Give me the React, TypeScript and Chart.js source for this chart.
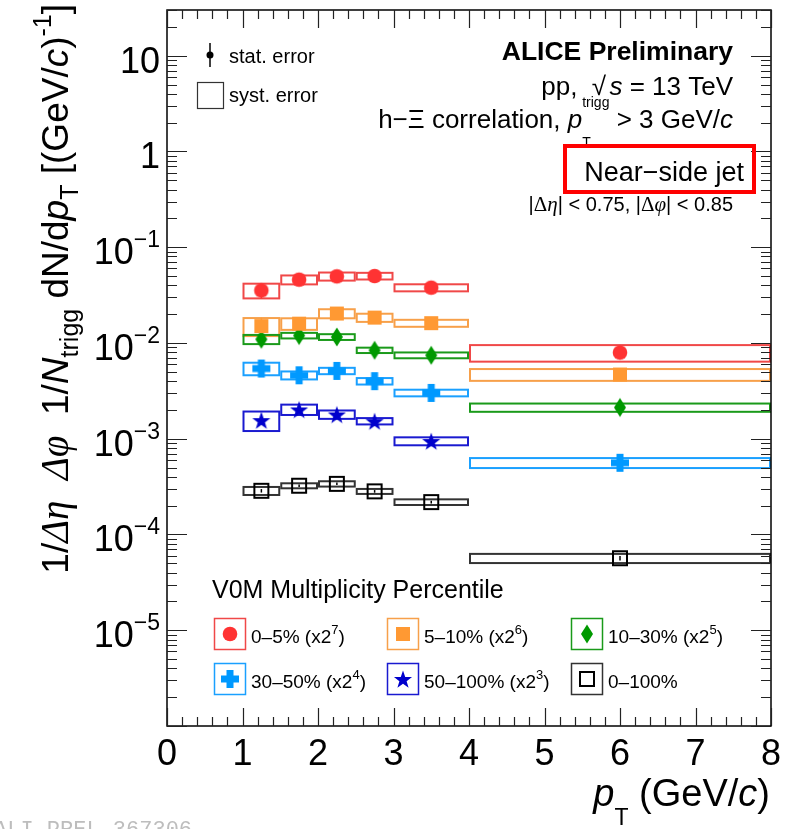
import React, { useEffect, useRef } from 'react';
import { Chart, registerables } from 'chart.js';

Chart.register(...registerables);

const SANS = '"Liberation Sans", Arial, Helvetica, sans-serif';
const SERIF = '"Liberation Serif", "Times New Roman", serif';
const MONO = '"Liberation Mono", "Courier New", monospace';

// ---------- data ----------
const binEdges = [1, 1.5, 2, 2.5, 3, 4, 8];
const binCenters = [1.25, 1.75, 2.25, 2.75, 3.5, 6];

const xTicks = [0, 1, 2, 3, 4, 5, 6, 7, 8];
const yDecadeExps = [1, 0, -1, -2, -3, -4, -5];
const xMin = 0;
const xMax = 8;
const yMin = 1e-6;
const yMax = 30;

const classLabels = ['0–5%', '5–10%', '10–30%', '30–50%', '50–100%', '0–100%'];
const scaleExps = [7, 6, 5, 4, 3, 0];

const vals0to5 = [0.0354, 0.0458, 0.0496, 0.05, 0.0378, 0.00794];
const syst0to5 = [0.0062, 0.0049, 0.0048, 0.004, 0.0032, 0.00156];
const stat0to5 = [0.0062, 0.002, 0.0016, 0.0015, 0.0012, 0.0012];

const vals5to10 = [0.015, 0.0159, 0.0203, 0.0184, 0.0161, 0.00468];
const syst5to10 = [0.0032, 0.0022, 0.0022, 0.0018, 0.00135, 0.00066];
const stat5to10 = [0.0033, 0.0012, 0.0011, 0.0009, 0.0007, 0.0004];

const vals10to30 = [0.01093, 0.01195, 0.01155, 0.00839, 0.00744, 0.00212];
const syst10to30 = [0.0012, 0.0008, 0.0008, 0.00054, 0.00052, 0.00021];
const stat10to30 = [0.0009, 0.0006, 0.0006, 0.0004, 0.0003, 0.00015];

const vals30to50 = [0.00541, 0.0046, 0.00511, 0.00399, 0.00301, 0.000561];
const syst30to50 = [0.00081, 0.00044, 0.00039, 0.00031, 0.00024, 0.000067];
const stat30to50 = [0.0004, 0.0003, 0.0003, 0.00025, 0.00018, 0.00005];

const vals50to100 = [0.001563, 0.00202, 0.001792, 0.001526, 0.000944];
const syst50to100 = [0.00036, 0.00025, 0.00018, 0.000116, 0.00009];
const stat50to100 = [0.00012, 0.00012, 0.0001, 0.00009, 0.00006];

const vals0to100 = [0.000286, 0.000323, 0.000338, 0.000282, 0.000218, 0.0000565];
const syst0to100 = [0.0000275, 0.0000194, 0.0000216, 0.0000169, 0.0000148, 0.0000062];
const stat0to100 = [0.000012, 0.00001, 0.00001, 0.000009, 0.000007, 0.000003];

// ---------- styles ----------
type Kind = 'circle' | 'square' | 'diamond' | 'plus' | 'star' | 'open';
const seriesStyle: { kind: Kind; fill: string; box: string }[] = [
  { kind: 'circle', fill: '#ff3333', box: '#f04848' },
  { kind: 'square', fill: '#ff9933', box: '#f7a04a' },
  { kind: 'diamond', fill: '#009900', box: '#1a9a1a' },
  { kind: 'plus', fill: '#0099ff', box: '#1aa0ff' },
  { kind: 'star', fill: '#0000cc', box: '#1a1ad0' },
  { kind: 'open', fill: '#000000', box: '#333333' },
];

const seriesData = [
  { vals: vals0to5, syst: syst0to5, stat: stat0to5 },
  { vals: vals5to10, syst: syst5to10, stat: stat5to10 },
  { vals: vals10to30, syst: syst10to30, stat: stat10to30 },
  { vals: vals30to50, syst: syst30to50, stat: stat30to50 },
  { vals: vals50to100, syst: syst50to100, stat: stat50to100 },
  { vals: vals0to100, syst: syst0to100, stat: stat0to100 },
];

function makeMarker(kind: Kind, color: string): HTMLCanvasElement {
  const c = document.createElement('canvas');
  c.width = 24;
  c.height = 24;
  const g = c.getContext('2d')!;
  g.translate(12, 12);
  g.fillStyle = color;
  g.strokeStyle = color;
  g.beginPath();
  if (kind === 'circle') {
    g.arc(0, 0, 7.3, 0, Math.PI * 2);
    g.fill();
  } else if (kind === 'square') {
    g.fillRect(-7, -7, 14, 14);
  } else if (kind === 'diamond') {
    g.moveTo(0, -9.5);
    g.lineTo(6, 0);
    g.lineTo(0, 9.5);
    g.lineTo(-6, 0);
    g.closePath();
    g.fill();
  } else if (kind === 'plus') {
    g.fillRect(-9, -3.5, 18, 7);
    g.fillRect(-3.5, -9, 7, 18);
  } else if (kind === 'star') {
    const R = 9.5;
    const r = 3.8;
    for (let i = 0; i < 10; i++) {
      const a = -Math.PI / 2 + (i * Math.PI) / 5;
      const rr = i % 2 === 0 ? R : r;
      const px = rr * Math.cos(a);
      const py = rr * Math.sin(a) + 1;
      if (i === 0) g.moveTo(px, py);
      else g.lineTo(px, py);
    }
    g.closePath();
    g.fill();
  } else {
    g.lineWidth = 2;
    g.strokeRect(-7, -7, 14, 14);
  }
  return c;
}

// ---------- rich text ----------
type Seg = {
  t?: string;
  size: number;
  style?: string;
  weight?: string;
  fam?: string;
  dy?: number;
  stack?: Seg[];
};

function fontOf(s: Seg) {
  return `${s.style || 'normal'} ${s.weight || 'normal'} ${s.size}px ${s.fam || SANS}`;
}
function segWidth(ctx: CanvasRenderingContext2D, s: Seg): number {
  if (s.stack) return Math.max(...s.stack.map((q) => segWidth(ctx, q)));
  ctx.font = fontOf(s);
  return ctx.measureText(s.t || '').width;
}
function richWidth(ctx: CanvasRenderingContext2D, segs: Seg[]) {
  return segs.reduce((a, s) => a + segWidth(ctx, s), 0);
}
function drawRich(
  ctx: CanvasRenderingContext2D,
  segs: Seg[],
  x: number,
  y: number,
  align: 'left' | 'right' | 'center'
) {
  const w = richWidth(ctx, segs);
  let cx = align === 'left' ? x : align === 'right' ? x - w : x - w / 2;
  ctx.textAlign = 'left';
  ctx.textBaseline = 'alphabetic';
  for (const s of segs) {
    if (s.stack) {
      for (const q of s.stack) {
        ctx.font = fontOf(q);
        ctx.fillText(q.t || '', cx, y + (q.dy || 0));
      }
    } else {
      ctx.font = fontOf(s);
      ctx.fillText(s.t || '', cx, y + (s.dy || 0));
    }
    cx += segWidth(ctx, s);
  }
}

export default function App() {
  const ref = useRef<HTMLCanvasElement | null>(null);

  useEffect(() => {
    const canvas = ref.current;
    if (!canvas) return;
    const markers = seriesStyle.map((s) => makeMarker(s.kind, s.fill));

    const datasets = seriesData.map((sd, i) => ({
      label: classLabels[i],
      data: sd.vals.map((v, j) => ({ x: binCenters[j], y: v })),
      pointStyle: markers[i] as any,
      pointRadius: 8,
      showLine: false,
      borderColor: seriesStyle[i].fill,
      backgroundColor: seriesStyle[i].fill,
    }));

    const boxesPlugin = {
      id: 'boxes',
      beforeDatasetsDraw(chart: any) {
        const ctx: CanvasRenderingContext2D = chart.ctx;
        const xs = chart.scales.x;
        const ys = chart.scales.y;
        ctx.save();
        seriesData.forEach((sd, i) => {
          ctx.strokeStyle = seriesStyle[i].box;
          ctx.lineWidth = 2;
          sd.vals.forEach((v, j) => {
            const x0 = xs.getPixelForValue(binEdges[j]);
            const x1 = xs.getPixelForValue(binEdges[j + 1]);
            const yt = ys.getPixelForValue(v + sd.syst[j]);
            const yb = ys.getPixelForValue(Math.max(v - sd.syst[j], 1e-9));
            ctx.strokeRect(x0 + 1, yt, x1 - x0 - 2, yb - yt);
          });
          ctx.strokeStyle = seriesStyle[i].fill;
          ctx.lineWidth = 1.5;
          sd.vals.forEach((v, j) => {
            const xc = xs.getPixelForValue(binCenters[j]);
            const yt = ys.getPixelForValue(v + sd.stat[j]);
            const yb = ys.getPixelForValue(v - sd.stat[j]);
            ctx.beginPath();
            ctx.moveTo(xc, yt);
            ctx.lineTo(xc, yb);
            ctx.stroke();
          });
        });
        ctx.restore();
      },
    };

    const framePlugin = {
      id: 'frame',
      afterDraw(chart: any) {
        const ctx: CanvasRenderingContext2D = chart.ctx;
        const xs = chart.scales.x;
        const ys = chart.scales.y;
        const a = chart.chartArea;
        ctx.save();
        ctx.strokeStyle = '#000';
        ctx.lineWidth = 1.5;
        ctx.strokeRect(a.left, a.top, a.right - a.left, a.bottom - a.top);
        ctx.lineWidth = 1.2;
        ctx.strokeStyle = '#222';
        for (let k = 0; k <= 40; k++) {
          const v = xMin + (k * (xMax - xMin)) / 40;
          const px = Math.round(xs.getPixelForValue(v)) + 0.5;
          const len = k % 5 === 0 ? 18 : 9;
          ctx.beginPath();
          ctx.moveTo(px, a.bottom);
          ctx.lineTo(px, a.bottom - len);
          ctx.moveTo(px, a.top);
          ctx.lineTo(px, a.top + len);
          ctx.stroke();
        }
        for (let e = -6; e <= 1; e++) {
          for (let m = 1; m <= 9; m++) {
            const v = m * Math.pow(10, e);
            if (v < yMin * 0.999 || v > yMax * 1.001) continue;
            const py = Math.round(ys.getPixelForValue(v)) + 0.5;
            const len = m === 1 ? 20 : 10;
            ctx.beginPath();
            ctx.moveTo(a.left, py);
            ctx.lineTo(a.left + len, py);
            ctx.moveTo(a.right, py);
            ctx.lineTo(a.right - len, py);
            ctx.stroke();
          }
        }
        ctx.fillStyle = '#000';
        xTicks.forEach((v) => {
          drawRich(ctx, [{ t: String(v), size: 36 }], xs.getPixelForValue(v), 765, 'center');
        });
        yDecadeExps.forEach((e) => {
          const py = ys.getPixelForValue(Math.pow(10, e));
          let segs: Seg[];
          if (e === 1) segs = [{ t: '10', size: 36 }];
          else if (e === 0) segs = [{ t: '1', size: 36 }];
          else segs = [{ t: '10', size: 36 }, { t: '−' + Math.abs(e), size: 23, dy: -17 }];
          drawRich(ctx, segs, 160, py + 17, 'right');
        });
        // x title
        drawRich(
          ctx,
          [
            { t: 'p', size: 38, style: 'italic' },
            { t: 'T', size: 23, dy: 19 },
            { t: ' (GeV/', size: 38 },
            { t: 'c', size: 38, style: 'italic' },
            { t: ')', size: 38 },
          ],
          770,
          806,
          'right'
        );
        // y title
        ctx.save();
        ctx.translate(68, 4);
        ctx.rotate(-Math.PI / 2);
        drawRich(
          ctx,
          [
            { t: '1/', size: 37 },
            { t: 'Δη', size: 39, style: 'italic', fam: SERIF },
            { t: '  ', size: 37 },
            { t: 'Δφ', size: 39, style: 'italic', fam: SERIF },
            { t: '  1/', size: 37 },
            { t: 'N', size: 37, style: 'italic' },
            { t: 'trigg', size: 25, dy: 10 },
            { t: ' dN/d', size: 37 },
            { t: 'p', size: 37, style: 'italic' },
            { t: 'T', size: 25, dy: 10 },
            { t: ' [(GeV/', size: 37 },
            { t: 'c', size: 37, style: 'italic' },
            { t: ')', size: 37 },
            { t: '-1', size: 25, dy: -17 },
            { t: ']', size: 37 },
          ],
          0,
          0,
          'right'
        );
        ctx.restore();

        // top-left legend
        ctx.strokeStyle = '#000';
        ctx.lineWidth = 1.5;
        ctx.beginPath();
        ctx.moveTo(210, 43);
        ctx.lineTo(210, 67);
        ctx.stroke();
        ctx.beginPath();
        ctx.arc(210, 55, 3.5, 0, Math.PI * 2);
        ctx.fill();
        drawRich(ctx, [{ t: 'stat. error', size: 20 }], 229, 63, 'left');
        ctx.lineWidth = 1.2;
        ctx.strokeStyle = '#333';
        ctx.strokeRect(197.5, 82.5, 26, 26);
        drawRich(ctx, [{ t: 'syst. error', size: 20 }], 229, 102, 'left');

        // top-right text
        drawRich(ctx, [{ t: 'ALICE Preliminary', size: 26.5, weight: 'bold' }], 733, 60, 'right');
        drawRich(
          ctx,
          [
            { t: 'pp,  ', size: 26 },
            { t: '√', size: 26 },
            { t: ' ', size: 12 },
            { t: 's', size: 26, style: 'italic' },
            { t: ' = 13 TeV', size: 26 },
          ],
          733,
          95,
          'right'
        );
        drawRich(
          ctx,
          [
            { t: 'h−Ξ correlation, ', size: 26 },
            { t: 'p', size: 26, style: 'italic' },
            {
              size: 14,
              stack: [
                { t: 'T', size: 14, dy: 19 },
                { t: 'trigg', size: 14, dy: -21 },
              ],
            },
            { t: ' > 3 GeV/', size: 26 },
            { t: 'c', size: 26, style: 'italic' },
          ],
          733,
          128,
          'right'
        );
        ctx.strokeStyle = '#ff0000';
        ctx.lineWidth = 4;
        ctx.strokeRect(565, 146, 189, 46);
        drawRich(ctx, [{ t: 'Near−side jet', size: 27 }], 744, 181, 'right');
        drawRich(
          ctx,
          [
            { t: '|', size: 20 },
            { t: 'Δ', size: 21, fam: SERIF },
            { t: 'η', size: 21, fam: SERIF, style: 'italic' },
            { t: '| < 0.75, |', size: 20 },
            { t: 'Δ', size: 21, fam: SERIF },
            { t: 'φ', size: 21, fam: SERIF, style: 'italic' },
            { t: '| < 0.85', size: 20 },
          ],
          733,
          211,
          'right'
        );

        // bottom legend
        drawRich(ctx, [{ t: 'V0M Multiplicity Percentile', size: 25 }], 212, 598, 'left');
        const colX = [214, 387, 571];
        const rowY = [618, 663];
        for (let i = 0; i < 6; i++) {
          const bx = colX[i % 3];
          const by = rowY[Math.floor(i / 3)];
          ctx.strokeStyle = seriesStyle[i].box;
          ctx.lineWidth = 1.5;
          ctx.strokeRect(bx + 0.5, by + 0.5, 31, 31);
          const mk = markers[i];
          ctx.drawImage(mk, bx + 16 - 12, by + 16 - 12);
          ctx.fillStyle = '#000';
          const segs: Seg[] = [{ t: classLabels[i], size: 19 }];
          if (scaleExps[i] > 0) {
            segs.push({ t: ' (x2', size: 19 });
            segs.push({ t: String(scaleExps[i]), size: 13, dy: -9 });
            segs.push({ t: ')', size: 19 });
          }
          drawRich(ctx, segs, bx + 37, by + 25, 'left');
        }

        // watermark
        ctx.fillStyle = '#bdbdbd';
        drawRich(ctx, [{ t: 'ALI-PREL-367306', size: 22, fam: MONO }], -6, 836, 'left');
        ctx.restore();
      },
    };

    const chart = new Chart(canvas, {
      type: 'scatter',
      data: { datasets: datasets as any },
      options: {
        responsive: false,
        animation: false,
        devicePixelRatio: 1,
        layout: { padding: { left: 0, right: 32, top: 10, bottom: 0 } },
        plugins: { legend: { display: false }, tooltip: { enabled: false } },
        scales: {
          x: {
            type: 'linear',
            min: xMin,
            max: xMax,
            grid: { display: false },
            border: { display: false },
            ticks: { display: false },
            afterFit: (s: any) => {
              s.height = 103;
            },
          },
          y: {
            type: 'logarithmic',
            min: yMin,
            max: yMax,
            grid: { display: false },
            border: { display: false },
            ticks: { display: false },
            afterFit: (s: any) => {
              s.width = 167;
            },
          },
        },
      } as any,
      plugins: [boxesPlugin, framePlugin],
    });
    return () => chart.destroy();
  }, []);

  return (
    <div style={{ position: 'fixed', left: 0, top: 0, width: 803, height: 829, background: '#fff' }}>
      <canvas ref={ref} width={803} height={829} style={{ width: 803, height: 829, display: 'block' }} />
    </div>
  );
}
